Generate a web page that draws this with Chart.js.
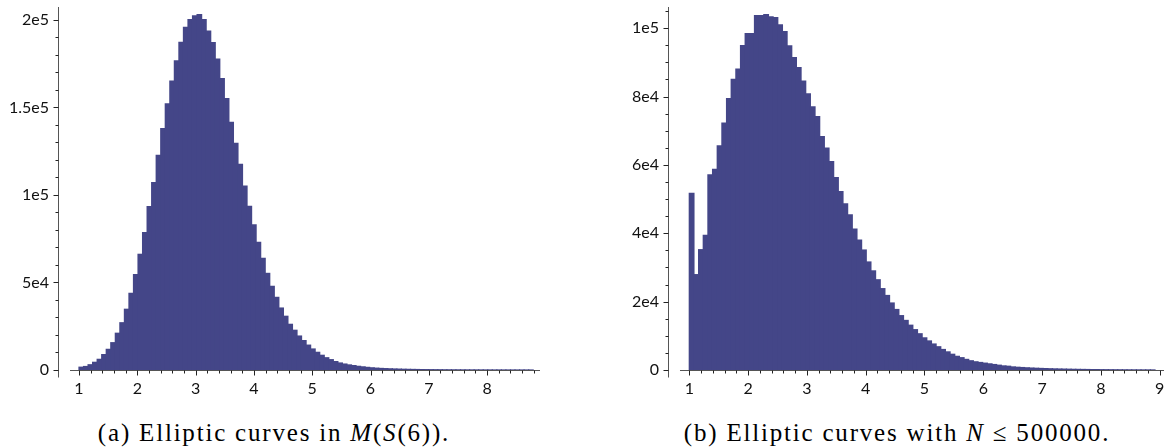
<!DOCTYPE html>
<html>
<head>
<meta charset="utf-8">
<script src="https://cdn.jsdelivr.net/npm/chart.js@4.4.0/dist/chart.umd.min.js"></script>
<style>
    body { margin: 0; background: #fff; width: 1164px; height: 448px; overflow: hidden; position: relative; }
    canvas { position: absolute; top: 0; }
    #chartA { left: 0; }
    #chartB { left: 582px; }
    .cap { position: absolute; top: 420px; line-height: 26px; font-family: "Liberation Serif", serif; font-size: 25px;
           letter-spacing: 1.8px; color: #000; white-space: nowrap; transform: translateX(-50%); }
</style>
</head>
<body>
<canvas id="chartA" width="560" height="400"></canvas>
<canvas id="chartB" width="582" height="400"></canvas>
<div class="cap" style="left:274px">(a) Elliptic curves in <i>M</i>(<i>S</i>(6)).</div>
<div class="cap" style="left:897px">(b) Elliptic curves with <i>N</i> ≤ 500000.</div>
<script>
// Histogram (a): 100 bins starting at 1
const binStartA = 1.0;
const binWidthA = 0.0779;
const countsA = [
    1600, 2000, 3000, 4400, 6100, 8800, 11800, 15600, 21000, 27000,
    34700, 43800, 54500, 66100, 78500, 93300, 107000, 122700, 137900, 152000,
    165000, 176600, 187200, 195800, 200200, 202300, 203000, 200200, 193700, 187000,
    177700, 166500, 155000, 141500, 129500, 117500, 105000, 93500, 83000, 73000,
    63800, 55200, 47800, 41500, 35400, 30700, 26100, 22700, 19400, 16800,
    14200, 12000, 10100, 8400, 7000, 5900, 4800, 4000, 3400, 2900,
    2500, 2100, 1800, 1500, 1250, 1050, 900, 780, 670, 580,
    500, 430, 370, 320, 280, 240, 210, 180, 160, 140,
    120, 105, 92, 80, 70, 62, 55, 48, 42, 37,
    33, 29, 26, 23, 20, 18, 16, 14, 12, 10
];
const xTicksA = [1, 2, 3, 4, 5, 6, 7, 8];
const yTicksA = [0, 50000, 100000, 150000, 200000];
const yLabelsA = ['0', '5e4', '1e5', '1.5e5', '2e5'];

// Histogram (b): 100 bins starting at 1
const binStartB = 1.0;
const binWidthB = 0.0792;
const countsB = [
    51700, 27900, 35200, 39400, 57100, 58700, 65600, 72200, 79400, 85000,
    88000, 94900, 98400, 98400, 103700, 103700, 104000, 103300, 103100, 101000,
    99000, 94800, 91400, 88500, 84500, 80800, 77000, 74100, 68300, 64900,
    61000, 56300, 52200, 48600, 45400, 41200, 38000, 35100, 31600, 29000,
    26400, 23800, 21800, 19600, 17700, 15900, 14500, 13100, 11800, 10600,
    9400, 8500, 7600, 6800, 6000, 5300, 4600, 4000, 3600, 3100,
    2700, 2400, 2200, 2000, 1800, 1600, 1400, 1200, 1100, 900,
    800, 720, 640, 570, 510, 460, 410, 360, 320, 290,
    260, 230, 200, 180, 160, 140, 125, 110, 95, 85,
    75, 65, 57, 50, 44, 38, 33, 28, 24, 20
];
const xTicksB = [1, 2, 3, 4, 5, 6, 7, 8, 9];
const yTicksB = [0, 20000, 40000, 60000, 80000, 100000];
const yLabelsB = ['0', '2e4', '4e4', '6e4', '8e4', '1e5'];

const barColor = '#444688';
const tickFont = { family: 'Lato', size: 16 };

// sage-like axes: y axis line a bit below 0, x axis line starts a bit right of the y axis
const sageAxes = {
    id: 'sageAxes',
    afterDatasetsDraw(chart, args, o) {
        const { ctx, chartArea: a, scales: { x, y } } = chart;
        const y0 = Math.round(y.getPixelForValue(0)) + 0.5;
        const xl = Math.round(a.left) + 0.5;
        ctx.save();
        ctx.lineWidth = 1;
        ctx.strokeStyle = '#555';
        ctx.beginPath();
        ctx.moveTo(xl, a.top);
        ctx.lineTo(xl, y0 + 7);
        ctx.moveTo(x.getPixelForValue(o.xLineStart), y0);
        ctx.lineTo(a.right, y0);
        ctx.stroke();
        ctx.strokeStyle = '#222';
        ctx.beginPath();
        for (let v = 0; v <= y.max; v += o.yMinor) {
            const py = Math.round(y.getPixelForValue(v)) + 0.5;
            const len = o.yMajor.includes(v) ? 5 : 3;
            ctx.moveTo(xl - len, py);
            ctx.lineTo(xl, py);
        }
        for (let k = Math.ceil(o.xLineStart / 0.2); k * 0.2 <= x.max; k++) {
            const v = Math.round(k * 0.2 * 10) / 10;
            const px = Math.round(x.getPixelForValue(v)) + 0.5;
            const len = Number.isInteger(v) ? 5 : 3;
            ctx.moveTo(px, y0);
            ctx.lineTo(px, y0 + len);
        }
        ctx.stroke();
        ctx.restore();
    }
};

function makeHist(id, binStart, binWidth, counts, xMin, xMax, xTicks, yMax, yTicks, yLabels, yMinor, yWidth, padRight, xLineStart) {
    const points = counts.map((c, i) => ({ x: binStart + (i + 0.5) * binWidth, y: c }));
    return new Chart(document.getElementById(id), {
        type: 'bar',
        data: {
            datasets: [{
                data: points,
                backgroundColor: barColor,
                borderWidth: 0,
                inflateAmount: 0.6,
                barPercentage: 1.0,
                categoryPercentage: 1.0
            }]
        },
        plugins: [sageAxes],
        options: {
            responsive: false,
            animation: false,
            layout: { padding: { top: 7, right: padRight, left: 0, bottom: 0 } },
            plugins: {
                legend: { display: false },
                tooltip: { enabled: false },
                sageAxes: { xLineStart: xLineStart, yMajor: yTicks, yMinor: yMinor }
            },
            scales: {
                x: {
                    type: 'linear',
                    offset: false,
                    min: xMin,
                    max: xMax,
                    grid: { display: false, drawTicks: false, offset: false },
                    border: { display: false },
                    afterBuildTicks: s => { s.ticks = xTicks.map(v => ({ value: v })); },
                    afterFit: s => { s.height = 30; s.paddingLeft = 0; s.paddingRight = 0; },
                    ticks: { padding: 9, color: '#111', font: tickFont, maxRotation: 0, autoSkip: false,
                             callback: v => String(v) }
                },
                y: {
                    min: 0,
                    max: yMax,
                    grid: { display: false, drawTicks: false },
                    border: { display: false },
                    afterBuildTicks: s => { s.ticks = yTicks.map(v => ({ value: v })); },
                    afterFit: s => { s.width = yWidth; s.paddingTop = 0; s.paddingBottom = 0; },
                    ticks: { padding: 9, color: '#111', font: tickFont, autoSkip: false,
                             callback: v => yLabels[yTicks.indexOf(v)] }
                }
            }
        }
    });
}

makeHist('chartA', binStartA, binWidthA, countsA, 0.640, 8.907, xTicksA, 207400, yTicksA, yLabelsA, 10000, 58, 20, 0.846);
makeHist('chartB', binStartB, binWidthB, countsB, 0.638, 9.073, xTicksB, 106200, yTicksB, yLabelsB, 5000, 86, 0, 0.842);
</script>
</body>
</html>
